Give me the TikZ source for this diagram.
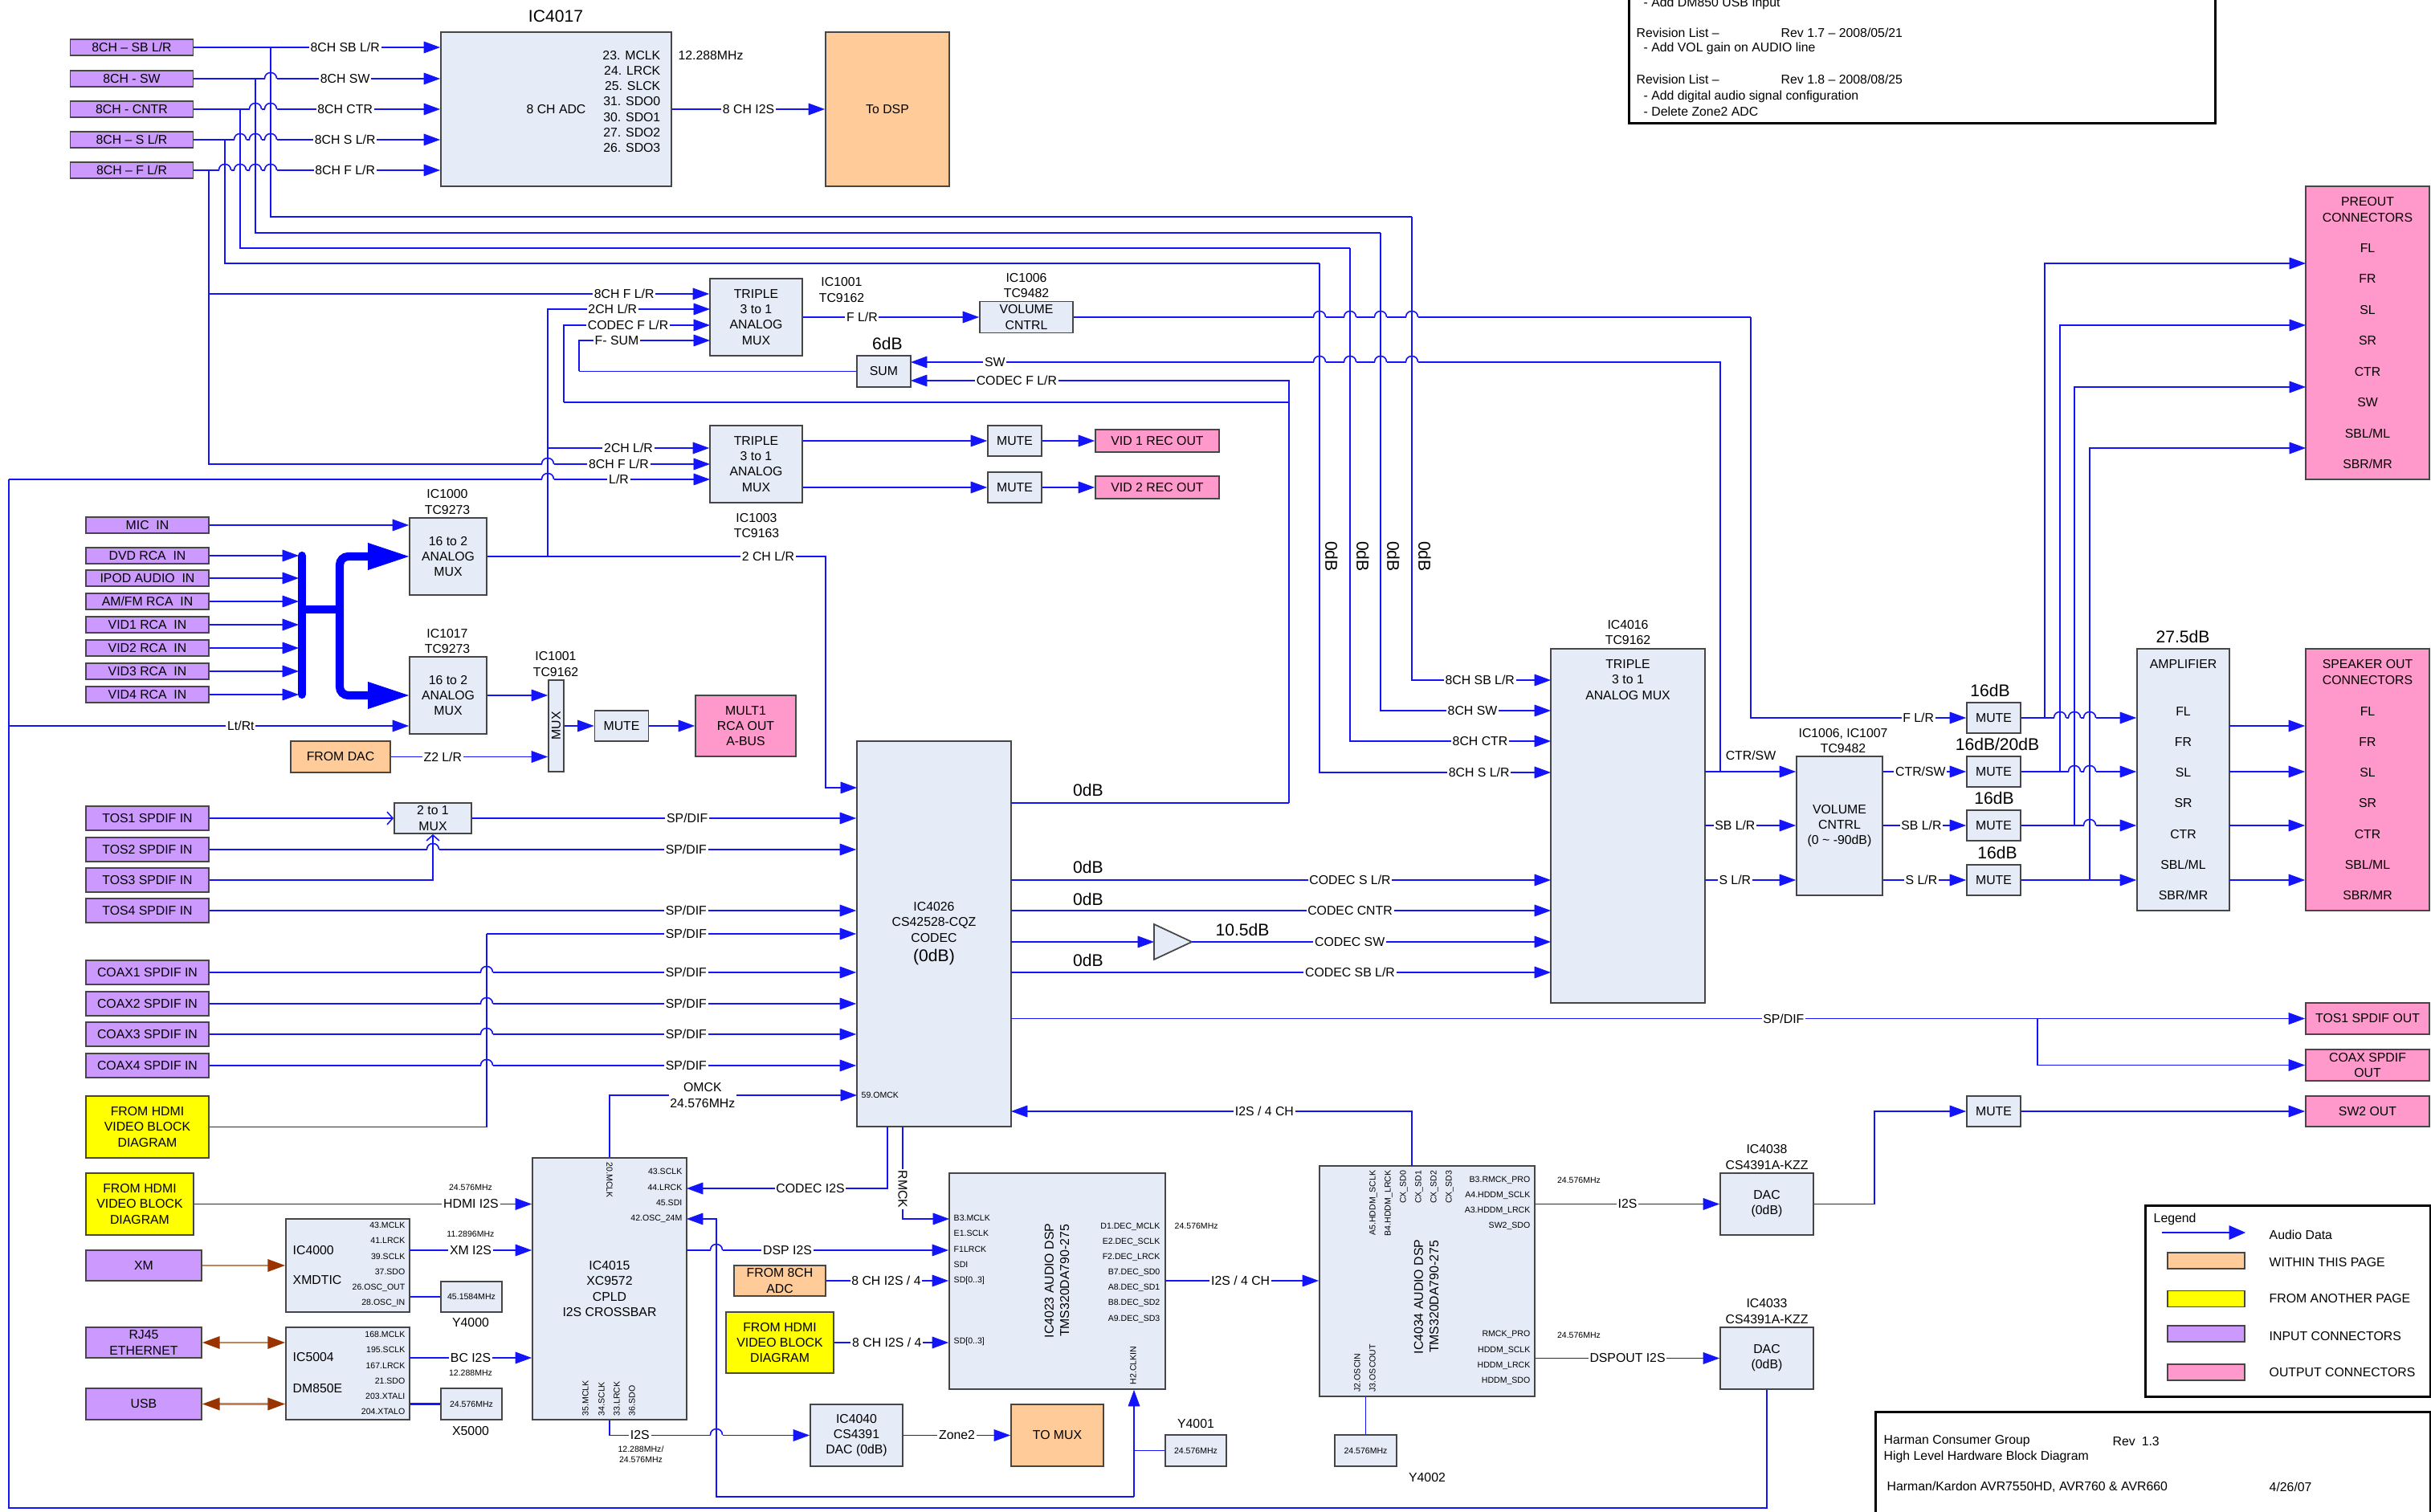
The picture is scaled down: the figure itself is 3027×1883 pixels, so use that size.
\documentclass[tikz,border=0pt]{standalone}
\usepackage{fontspec}
\setmainfont{Liberation Sans}
\usepackage{graphicx}
\usetikzlibrary{arrows.meta,positioning}

\definecolor{wireblue}{RGB}{20,20,250}
\definecolor{icfill}{RGB}{230,236,247}
\definecolor{inpurple}{RGB}{204,153,255}
\definecolor{outpink}{RGB}{255,153,204}
\definecolor{pageorange}{RGB}{255,204,153}
\definecolor{hdmiyellow}{RGB}{255,255,0}
\definecolor{brownline}{RGB}{200,130,90}
\definecolor{browntip}{RGB}{153,51,0}
\definecolor{boxline}{RGB}{70,70,70}

\newcommand{\fnorm}{\fontsize{4.5}{5.45}\selectfont}
\newcommand{\fpin}{\fontsize{3}{5.45}\selectfont}
\newcommand{\fbig}{\fontsize{6}{7.2}\selectfont}
\newcommand{\hop}[2]{%
  \fill[white] (#1-7.5,#2-1.4) rectangle (#1+7.5,#2+1.4);
  \draw[wire] (#1,#2-3) -- (#1,#2+3);
  \draw[wire] (#1-7.5,#2) .. controls (#1-7.5,#2-10) and (#1+7.5,#2-10) .. (#1+7.5,#2);}

\begin{document}
\begin{tikzpicture}[x=0.01cm, y=-0.01cm, font=\fnorm,
    every node/.append style = {align=center},
    box/.style = {draw=boxline, line width=0.5pt, inner sep=0pt, align=center},
    ic/.style = {box, fill=icfill},
    inbox/.style = {box, fill=inpurple, minimum width=1.53cm, minimum height=0.2cm},
    outbox/.style = {box, fill=outpink, minimum width=1.54cm},
    pagebox/.style = {box, fill=pageorange},
    hdmi/.style = {box, fill=hdmiyellow},
    mute/.style = {ic, minimum width=0.67cm, minimum height=0.38cm},
    xtal/.style = {ic, font=\fpin, minimum width=0.76cm, minimum height=0.38cm},
    wire/.style = {draw=wireblue, line width=0.45pt},
    arr/.style = {wire, -{Triangle[length=5.8pt, width=4.2pt, line width=0.2pt]}},
    barb/.style = {wire, -{Straight Barb[length=2pt, width=4.5pt]}},
    bus/.style = {draw=blue, line width=2.9pt},
    bigarr/.style = {bus, rounded corners=3pt, -{Triangle[length=14.5pt, width=9.6pt, line width=0.2pt]}},
    brownarr/.style = {draw=brownline, line width=0.6pt, arrows={-Triangle[length=6.2pt, width=4.4pt, color=browntip, fill=browntip]}},
    brownboth/.style = {draw=brownline, line width=0.6pt, arrows={Triangle[length=6.2pt, width=4.4pt, color=browntip, fill=browntip]-Triangle[length=6.2pt, width=4.4pt, color=browntip, fill=browntip]}},
    lbl/.style = {fill=white, inner sep=0.5pt, align=center},
    pin/.style = {font=\fpin, inner sep=0pt},
    big/.style = {font=\fbig, inner sep=0pt},
    txt/.style = {anchor=west, inner sep=0pt, align=left},
    frame/.style = {draw=black, line width=0.8pt, inner sep=0pt},
  ]
  \useasboundingbox (0,0) rectangle (3027,1883);
  \fill[white] (0,0) rectangle (3027,1883);

  \node (inSB) [inbox] at (164,59) {8CH -- SB L/R};
  \node (inSW) [inbox] at (164,98) {8CH - SW};
  \node (inCTR) [inbox] at (164,136) {8CH - CNTR};
  \node (inS) [inbox] at (164,174) {8CH -- S L/R};
  \node (inF) [inbox] at (164,212) {8CH -- F L/R};
  \node (adc) [ic, minimum width=2.87cm, minimum height=1.92cm] at (692.5,136) {8 CH ADC};
  \node (adcname) [big] at (692,20) {IC4017};
  \node (adcpins) [inner sep=0pt, align=right, anchor=east] at (823,126.5) {23. MCLK\\24. LRCK\\25. SLCK\\31. SDO0\\30. SDO1\\27. SDO2\\26. SDO3};
  \node (adcclk) at (885,69) {12.288MHz};
  \node (todsp) [pagebox, minimum width=1.54cm, minimum height=1.92cm] at (1105,136) {To DSP};

  \node (mux1) [ic, minimum width=1.15cm, minimum height=0.96cm] at (941.5,395) {TRIPLE\\3 to 1\\ANALOG\\MUX};
  \node (mux1name) at (1048,361) {IC1001\\TC9162};
  \node (vol1) [ic, minimum width=1.16cm, minimum height=0.39cm] at (1278,395) {VOLUME\\CNTRL};
  \node (vol1name) at (1278,355.5) {IC1006\\TC9482};
  \node (sum) [ic, minimum width=0.67cm, minimum height=0.39cm] at (1100.5,462.5) {SUM};
  \node (sumgain) [big] at (1105,428) {6dB};
  \node (mux2) [ic, minimum width=1.15cm, minimum height=0.96cm] at (941.5,578) {TRIPLE\\3 to 1\\ANALOG\\MUX};
  \node (mux2name) at (942,654.5) {IC1003\\TC9163};
  \node (mute1) [mute] at (1263.5,549) {MUTE};
  \node (mute2) [mute] at (1263.5,607) {MUTE};
  \node (vid1out) [outbox, minimum height=0.28cm] at (1441,549) {VID 1 REC OUT};
  \node (vid2out) [outbox, minimum height=0.28cm] at (1441,607) {VID 2 REC OUT};

  \node (mic) [inbox] at (183.5,654) {MIC~~IN};
  \node (dvd) [inbox] at (183.5,692) {DVD RCA~~IN};
  \node (ipod) [inbox] at (183.5,720) {IPOD AUDIO~~IN};
  \node (amfm) [inbox] at (183.5,749) {AM/FM RCA~~IN};
  \node (vid1in) [inbox] at (183.5,778) {VID1 RCA~~IN};
  \node (vid2in) [inbox] at (183.5,807) {VID2 RCA~~IN};
  \node (vid3in) [inbox] at (183.5,836) {VID3 RCA~~IN};
  \node (vid4in) [inbox] at (183.5,865) {VID4 RCA~~IN};
  \node (ic1000) [ic, minimum width=0.96cm, minimum height=0.96cm] at (558,693) {16 to 2\\ANALOG\\MUX};
  \node (ic1000name) at (557,625) {IC1000\\TC9273};
  \node (ic1017) [ic, minimum width=0.96cm, minimum height=0.96cm] at (558,866) {16 to 2\\ANALOG\\MUX};
  \node (ic1017name) at (557,798.5) {IC1017\\TC9273};
  \node (zmux) [ic, minimum width=0.19cm, minimum height=1.14cm] at (692.5,904) {\rotatebox{90}{MUX}};
  \node (zmuxname) at (692,827) {IC1001\\TC9162};
  \node (fromdac) [pagebox, minimum width=1.24cm, minimum height=0.39cm] at (424,942.5) {FROM DAC};
  \node (mute3) [mute] at (774,904) {MUTE};
  \node (mult1) [outbox, minimum width=1.25cm, minimum height=0.76cm] at (928.5,904) {MULT1\\RCA OUT\\A-BUS};

  \node (tos1) [inbox, minimum height=0.3cm] at (183.5,1019) {TOS1 SPDIF IN};
  \node (tos2) [inbox, minimum height=0.3cm] at (183.5,1058) {TOS2 SPDIF IN};
  \node (tos3) [inbox, minimum height=0.3cm] at (183.5,1096) {TOS3 SPDIF IN};
  \node (tos4) [inbox, minimum height=0.3cm] at (183.5,1134) {TOS4 SPDIF IN};
  \node (mux21) [ic, minimum width=0.96cm, minimum height=0.38cm] at (539,1019) {2 to 1\\MUX};
  \node (coax1) [inbox, minimum height=0.3cm] at (183.5,1211) {COAX1 SPDIF IN};
  \node (coax2) [inbox, minimum height=0.3cm] at (183.5,1250) {COAX2 SPDIF IN};
  \node (coax3) [inbox, minimum height=0.3cm] at (183.5,1288) {COAX3 SPDIF IN};
  \node (coax4) [inbox, minimum height=0.3cm] at (183.5,1327) {COAX4 SPDIF IN};
  \node (hdmi1) [hdmi, minimum width=1.53cm, minimum height=0.77cm] at (183.5,1403.5) {FROM HDMI\\VIDEO BLOCK\\DIAGRAM};

  \node (codec) [ic, minimum width=1.92cm, minimum height=4.8cm] at (1163,1163) {IC4026\\CS42528-CQZ\\CODEC\\[1.6pt]{\fbig (0dB)}};
  \node (omckpin) [pin, anchor=west] at (1072,1364) {59.OMCK};

  \node (mux16) [ic, minimum width=1.92cm, minimum height=4.41cm] at (2027,1028.5) {};
  \node (mux16txt) at (2027,846.5) {TRIPLE\\3 to 1\\ANALOG MUX};
  \node (mux16name) at (2027,787.5) {IC4016\\TC9162};
  \node (vol2) [ic, minimum width=1.07cm, minimum height=1.73cm] at (2290.5,1028.5) {VOLUME\\CNTRL\\(0 \textasciitilde{} -90dB)};
  \node (vol2name) at (2295,922.5) {IC1006, IC1007\\TC9482};
  \node (muteF) [mute] at (2482.5,894) {MUTE};
  \node (muteCS) [mute] at (2482.5,961) {MUTE};
  \node (muteSB) [mute] at (2482.5,1028) {MUTE};
  \node (muteS) [mute] at (2482.5,1096) {MUTE};
  \node (gainF) [big] at (2478,860) {16dB};
  \node (gainCS) [big] at (2487,927) {16dB/20dB};
  \node (gainSB) [big] at (2483,994) {16dB};
  \node (gainS) [big] at (2487,1062) {16dB};
  \node (amp) [ic, minimum width=1.15cm, minimum height=3.26cm] at (2718.5,971) {};
  \node (ampgain) [big] at (2718,793) {27.5dB};
  \node (amptxt) at (2718.5,827) {AMPLIFIER};
  \node (spkout) [outbox, minimum height=3.26cm] at (2948,971) {};
  \node (spktxt) at (2948,837) {SPEAKER OUT\\CONNECTORS};
  \foreach \t [count=\i] in {FL,FR,SL,SR,CTR,SBL/ML,SBR/MR} {
    \node (ampch\i) at (2718.5,{886+38.17*(\i-1)}) {\t};
    \node (spkch\i) at (2948,{886+38.17*(\i-1)}) {\t};
  }
  \node (preout) [outbox, minimum height=3.65cm] at (2948,414.5) {};
  \node (pretxt) at (2948,261) {PREOUT\\CONNECTORS};
  \foreach \t [count=\i] in {FL,FR,SL,SR,CTR,SW,SBL/ML,SBR/MR} {
    \node (prech\i) at (2948,{309+38.43*(\i-1)}) {\t};
  }

  \node (tosout) [outbox, minimum height=0.39cm] at (2948,1268.5) {TOS1 SPDIF OUT};
  \node (coaxout) [outbox, minimum height=0.39cm] at (2948,1326.5) {COAX SPDIF\\OUT};
  \node (sw2out) [outbox, minimum height=0.38cm] at (2948,1384) {SW2 OUT};
  \node (muteSW2) [mute] at (2482.5,1384) {MUTE};
  \node (dac1) [ic, minimum width=1.16cm, minimum height=0.77cm] at (2200,1499.5) {DAC\\(0dB)};
  \node (dac1name) at (2200,1441) {IC4038\\CS4391A-KZZ};
  \node (dac2) [ic, minimum width=1.16cm, minimum height=0.77cm] at (2200,1691.5) {DAC\\(0dB)};
  \node (dac2name) at (2200,1633) {IC4033\\CS4391A-KZZ};

  \node (dsp2) [ic, minimum width=2.68cm, minimum height=2.87cm] at (1777,1595.5) {};
  \node (dsp2txt) [rotate=90, align=center] at (1776,1615) {IC4034 AUDIO DSP\\TMS320DA790-275};
  \foreach \t/\x in {A5.HDDM\_SCLK/1710, B4.HDDM\_LRCK/1729, CX\_SD0/1748, CX\_SD1/1767, CX\_SD2/1786, CX\_SD3/1805} {
    \node[pin, rotate=90, anchor=east] at (\x,1457) {\t};
  }
  \node (dsp2pa) [pin, align=right, anchor=east] at (1906,1498.5) {B3.RMCK\_PRO\\A4.HDDM\_SCLK\\A3.HDDM\_LRCK\\SW2\_SDO};
  \node (dsp2pb) [pin, align=right, anchor=east] at (1906,1691) {RMCK\_PRO\\HDDM\_SCLK\\HDDM\_LRCK\\HDDM\_SDO};
  \node (dsp2pc) [pin, rotate=90, anchor=west] at (1690,1734) {J2.OSCIN};
  \node (dsp2pd) [pin, rotate=90, anchor=west] at (1709,1734) {J3.OSCOUT};
  \node (dsp2fa) [pin] at (1966,1470) {24.576MHz};
  \node (dsp2fb) [pin] at (1966,1663) {24.576MHz};
  \node (y4002) [xtal, minimum width=0.77cm, minimum height=0.39cm] at (1700.5,1806.5) {24.576MHz};
  \node (y4002name) at (1777,1840) {Y4002};

  \node (dsp1) [ic, minimum width=2.69cm, minimum height=2.69cm] at (1316.5,1595.5) {};
  \node (dsp1txt) [rotate=90, align=center] at (1316,1595) {IC4023 AUDIO DSP\\TMS320DA790-275};
  \node (dsp1pa) [pin, align=left, anchor=west] at (1187,1556.5) {B3.MCLK\\E1.SCLK\\F1LRCK\\SDI\\SD[0..3]};
  \node (dsp1pb) [pin, anchor=west] at (1187,1671) {SD[0..3]};
  \node (dsp1pc) [pin, align=right, anchor=east] at (1445,1585) {D1.DEC\_MCLK\\E2.DEC\_SCLK\\F2.DEC\_LRCK\\B7.DEC\_SD0\\A8.DEC\_SD1\\B8.DEC\_SD2\\A9.DEC\_SD3};
  \node (dsp1pd) [pin, rotate=90, anchor=west] at (1411,1725) {H2.CLKIN};
  \node (dsp1f) [pin, anchor=west] at (1462,1527) {24.576MHz};
  \node (from8ch) [pagebox, minimum width=1.14cm, minimum height=0.38cm] at (971,1595) {FROM 8CH\\ADC};
  \node (hdmi3) [hdmi, minimum width=1.34cm, minimum height=0.76cm] at (971,1672) {FROM HDMI\\VIDEO BLOCK\\DIAGRAM};
  \node (y4001) [xtal, minimum height=0.39cm] at (1489,1806.5) {24.576MHz};
  \node (y4001name) at (1489,1773) {Y4001};
  \node (dac3) [ic, minimum width=1.15cm, minimum height=0.77cm] at (1066.5,1787.5) {IC4040\\CS4391\\DAC (0dB)};
  \node (tomux) [pagebox, minimum width=1.15cm, minimum height=0.77cm] at (1316.5,1787.5) {TO MUX};

  \node (cpld) [ic, minimum width=1.92cm, minimum height=3.26cm] at (759,1605) {IC4015\\XC9572\\CPLD\\I2S CROSSBAR};
  \node (cpldpa) [pin, align=right, anchor=east] at (850,1489) {43.SCLK\\44.LRCK\\45.SDI\\42.OSC\_24M};
  \node (cpldpb) [pin, rotate=-90, anchor=west] at (759,1447) {20.MCLK};
  \foreach \t/\x in {35.MCLK/729, 34.SCLK/749, 33.LRCK/768, 36.SDO/787} {
    \node[pin, rotate=90, anchor=west] at (\x,1764) {\t};
  }
  \node (i2sclk) [font=\fontsize{3}{3.8}\selectfont, align=center, inner sep=0pt] at (798,1811) {12.288MHz/\\24.576MHz};

  \node (hdmi2) [hdmi, minimum width=1.34cm, minimum height=0.77cm] at (174,1499.5) {FROM HDMI\\VIDEO BLOCK\\DIAGRAM};
  \node (hdmiclk) [pin] at (586,1479) {24.576MHz};
  \node (xm) [inbox, minimum width=1.44cm, minimum height=0.38cm] at (179,1576) {XM};
  \node (ic4000) [ic, minimum width=1.54cm, minimum height=1.16cm] at (433,1576) {};
  \node (ic4000a) [txt] at (364,1557) {IC4000};
  \node (ic4000b) [txt] at (364,1594) {XMDTIC};
  \node (ic4000p) [pin, align=right, anchor=east] at (505,1575) {43.MCLK\\41.LRCK\\39.SCLK\\37.SDO\\26.OSC\_OUT\\28.OSC\_IN};
  \node (xmclk) [pin] at (586,1537) {11.2896MHz};
  \node (y4000) [xtal] at (587,1615) {45.1584MHz};
  \node (y4000name) at (586,1647) {Y4000};
  \node (rj45) [inbox, minimum width=1.44cm, minimum height=0.38cm] at (179,1672) {RJ45\\ETHERNET};
  \node (usb) [inbox, minimum width=1.44cm, minimum height=0.39cm] at (179,1748.5) {USB};
  \node (ic5004) [ic, minimum width=1.54cm, minimum height=1.15cm] at (433,1710.5) {};
  \node (ic5004a) [txt] at (364,1690) {IC5004};
  \node (ic5004b) [txt] at (364,1729) {DM850E};
  \node (ic5004p) [pin, align=right, anchor=east] at (505,1710) {168.MCLK\\195.SCLK\\167.LRCK\\21.SDO\\203.XTALI\\204.XTALO};
  \node (bcclk) [pin] at (586,1710) {12.288MHz};
  \node (x5000) [xtal, minimum height=0.39cm] at (587,1748.5) {24.576MHz};
  \node (x5000name) at (586,1782) {X5000};

  \path[arr] (inSB.east) -- node[lbl, pos=.614] {8CH SB L/R} (adc.west |- inSB.east);
  \path[arr] (inSW.east) -- node[lbl, pos=.614] {8CH SW} (adc.west |- inSW.east);
  \path[arr] (inCTR.east) -- node[lbl, pos=.614] {8CH CTR} (adc.west |- inCTR.east);
  \path[arr] (inS.east) -- node[lbl, pos=.614] {8CH S L/R} (adc.west |- inS.east);
  \path[arr] (inF.east) -- node[lbl, pos=.614] {8CH F L/R} (adc.west |- inF.east);
  \path[arr] (adc.east) -- node[lbl] {8 CH I2S} (todsp.west);

  \coordinate (tSB) at (337,59);
  \coordinate (tSW) at (318,98);
  \coordinate (tCTR) at (299,136);
  \coordinate (tS) at (280,174);
  \coordinate (tF) at (260,212);
  \coordinate (tF2) at (260,366);
  \coordinate (kSB) at (1758,270);
  \coordinate (kSW) at (1719,290);
  \coordinate (kCTR) at (1681,309);
  \coordinate (kS) at (1643,328);
  \coordinate (u1) at (1931,847);
  \coordinate (u2) at (1931,885);
  \coordinate (u3) at (1931,923);
  \coordinate (u4) at (1931,962);
  \path[wire] (tSB) |- (kSB);
  \path[wire] (tSW) |- (kSW);
  \path[wire] (tCTR) |- (kCTR);
  \path[wire] (tS) |- (kS);
  \path[arr] (kSB) |- node[lbl, pos=.745] {8CH SB L/R} (u1);
  \path[arr] (kSW) |- node[lbl, pos=.77] {8CH SW} (u2);
  \path[arr] (kCTR) |- node[lbl, pos=.824] {8CH CTR} (u3);
  \path[arr] (kS) |- node[lbl, pos=.845] {8CH S L/R} (u4);
  \foreach \x in {1658,1697,1735,1774} {
    \node (odb\x) [big, rotate=-90] at (\x,693) {0dB};
  }

  \coordinate (m1a) at (mux1.west |- tF2);
  \coordinate (m1b) at (884,385);
  \coordinate (m1c) at (884,405);
  \coordinate (m1d) at (884,424);
  \coordinate (m2b) at (884,578);
  \coordinate (m2c) at (884,597);
  \path[arr] (tF2) -- node[lbl, pos=.83] {8CH F L/R} (m1a);
  \path[arr] (tF) |- node[lbl, pos=.909] {8CH F L/R} (m2b);

  \coordinate (j2ch) at (682,693);
  \coordinate (j2chb) at (682,558);
  \coordinate (c2ch) at (1028,693);
  \coordinate (cin2ch) at (1067,981);
  \path[arr] (j2ch) |- node[lbl, pos=.70] {2CH L/R} (m1b);
  \path[arr] (j2chb) -- node[lbl] {2CH L/R} (mux2.west |- j2chb);
  \path[arr] (ic1000.east) -- node[lbl, pos=.83] {2 CH L/R} (c2ch) |- (cin2ch);

  \coordinate (sumSW) at (1134,451);
  \coordinate (sumCF) at (1134,474);
  \coordinate (fsum) at (721,462.5);
  \path[wire] (sum.west) -- (fsum);
  \path[arr] (fsum) |- node[lbl, pos=.644] {F- SUM} (m1d);
  \coordinate (co1) at (1259,1000);
  \coordinate (cF) at (1605,1000);
  \coordinate (cF2) at (1605,501);
  \coordinate (cF3) at (702,501);
  \path[wire] (co1) -- (cF);
  \path[arr] (cF) |- node[lbl, pos=.86] {CODEC F L/R} (sumCF);
  \path[wire] (cF2) -- (cF3);
  \path[arr] (cF3) |- node[lbl, pos=.72] {CODEC F L/R} (m1c);

  \path[arr] (mux1.east) -- node[lbl, pos=.335] {F L/R} (vol1.west);
  \coordinate (fk) at (2180,395);
  \path[wire] (vol1.east) -- (fk);
  \path[arr] (fk) |- node[lbl, pos=.889] {F L/R} (muteF.west);
  \coordinate (swk) at (2142,961);
  \path[arr] (swk) |- node[lbl, pos=.948] {SW} (sumSW);

  \path[arr] (mux2.east |- mute1.west) -- (mute1.west);
  \path[arr] (mute1.east) -- (vid1out.west);
  \path[arr] (mux2.east |- mute2.west) -- (mute2.west);
  \path[arr] (mute2.east) -- (vid2out.west);

  \coordinate (lrk) at (11,597);
  \coordinate (ltrt) at (11,904);
  \coordinate (botR) at (2200,1878);
  \coordinate (botL) at (11,1878);
  \path[wire] (dac2.south) -- (botR) -- (botL) -- (lrk);
  \path[arr] (lrk) -- node[lbl, pos=.87] {L/R} (m2c);
  \path[arr] (ltrt) -- node[lbl, pos=.58] {Lt/Rt} (ic1017.west |- ltrt);

  \coordinate (busL) at (372,692);
  \coordinate (busA) at (376,692);
  \coordinate (busB) at (376,865);
  \coordinate (busM) at (376,759);
  \coordinate (busN) at (423,759);
  \coordinate (busT) at (423,693);
  \coordinate (busU) at (423,866);
  \foreach \n in {dvd,ipod,amfm,vid1in,vid2in,vid3in,vid4in} {
    \path[arr] (\n.east) -- (\n.east -| busL);
  }
  \path[arr] (mic.east) -- (ic1000.west |- mic.east);
  \draw[bus, line cap=round] (busA) -- (busB);
  \draw[bus] (busM) -- (busN);
  \path[bigarr] (busN) -- (busT) -- (ic1000.west);
  \path[bigarr] (busN) -- (busU) -- (ic1017.west);

  \path[arr] (ic1017.east) -- (zmux.west |- ic1017.east);
  \path[arr] (fromdac.east) -- node[lbl, pos=.33] {Z2 L/R} (zmux.west |- fromdac.east);
  \path[arr] (zmux.east) -- (mute3.west);
  \path[arr] (mute3.east) -- (mult1.west);

  \path[barb] (tos1.east) -- (mux21.west);
  \path[barb] (tos3.east) -| (mux21.south);
  \path[arr] (mux21.east) -- node[lbl, pos=.56] {SP/DIF} (codec.west |- mux21.east);
  \foreach \n in {tos2,tos4,coax1,coax2,coax3,coax4} {
    \path[arr] (\n.east) -- node[lbl, pos=.737] {SP/DIF} (codec.west |- \n.east);
  }
  \coordinate (h1k) at (606,1163);
  \path[wire] (hdmi1.east) -| (h1k);
  \path[arr] (h1k) -- node[lbl, pos=.54] {SP/DIF} (codec.west |- h1k);

  \coordinate (omckin) at (1067,1364);
  \path[arr] (cpld.north) |- node[lbl, pos=.688] {OMCK\\24.576MHz} (omckin);

  \coordinate (co2) at (1259,1096);
  \coordinate (co3) at (1259,1134);
  \coordinate (co4) at (1259,1173);
  \coordinate (co5) at (1259,1211);
  \coordinate (co6) at (1259,1268.5);
  \coordinate (u5) at (1931,1096);
  \coordinate (u6) at (1931,1134);
  \coordinate (u7) at (1931,1173);
  \coordinate (u8) at (1931,1211);
  \coordinate (gin) at (1437,1173);
  \coordinate (gout) at (1484,1173);
  \path[arr] (co2) -- node[lbl, pos=.628] {CODEC S L/R} (u5);
  \path[arr] (co3) -- node[lbl, pos=.628] {CODEC CNTR} (u6);
  \path[arr] (co4) -- (gin);
  \draw[box, fill=icfill] (1437,1151) -- (gout) -- (1437,1195) -- cycle;
  \path[arr] (gout) -- node[lbl, pos=.44] {CODEC SW} (u7);
  \path[arr] (co5) -- node[lbl, pos=.628] {CODEC SB L/R} (u8);
  \node (swgain) [big] at (1547,1158) {10.5dB};
  \node (cgain1) [big] at (1355,984) {0dB};
  \node (cgain2) [big] at (1355,1080) {0dB};
  \node (cgain3) [big] at (1355,1120) {0dB};
  \node (cgain4) [big] at (1355,1196) {0dB};
  \path[arr] (co6) -- node[lbl, pos=.597] {SP/DIF} (tosout.west);
  \coordinate (spk) at (2537,1268.5);
  \path[arr] (spk) |- (coaxout.west);

  \coordinate (ci) at (1259,1384);
  \coordinate (i4k) at (1758,1452);
  \path[arr] (i4k) |- node[lbl, pos=.684] {I2S / 4 CH} (ci);
  \coordinate (cb1) at (1105,1403);
  \coordinate (cb2) at (1124,1403);
  \coordinate (cpl44) at (855,1480);
  \coordinate (dspb3) at (1182,1518);
  \path[arr] (cb1) |- node[lbl, pos=.692] {CODEC I2S} (cpl44);
  \path[arr] (cb2) |- node[lbl, rotate=-90, pos=.34] {RMCK} (dspb3);

  \coordinate (uo1) at (2123,961);
  \coordinate (uo2) at (2123,1028);
  \coordinate (uo3) at (2123,1096);
  \path[arr] (uo1) -- (vol2.west |- uo1);
  \node (ctrsw) at (2180,941) {CTR/SW};
  \path[arr] (uo2) -- node[lbl, pos=.33] {SB L/R} (vol2.west |- uo2);
  \path[arr] (uo3) -- node[lbl, pos=.33] {S L/R} (vol2.west |- uo3);
  \path[arr] (vol2.east |- muteCS.west) -- node[lbl, pos=.45] {CTR/SW} (muteCS.west);
  \path[arr] (vol2.east |- muteSB.west) -- node[lbl, pos=.46] {SB L/R} (muteSB.west);
  \path[arr] (vol2.east |- muteS.west) -- node[lbl, pos=.46] {S L/R} (muteS.west);
  \foreach \n in {muteF,muteCS,muteSB,muteS} {
    \path[arr] (\n.east) -- (amp.west |- \n.east);
  }
  \coordinate (bF) at (2546,894);
  \coordinate (bCS) at (2565,961);
  \coordinate (bSB) at (2583,1028);
  \coordinate (bS) at (2602,1096);
  \coordinate (pFL) at (2871,328);
  \coordinate (pSL) at (2871,405);
  \coordinate (pCTR) at (2871,482);
  \coordinate (pSBL) at (2871,558);
  \path[arr] (bF) |- (pFL);
  \path[arr] (bCS) |- (pSL);
  \path[arr] (bSB) |- (pCTR);
  \path[arr] (bS) |- (pSBL);
  \foreach \y in {904,961,1028,1096} {
    \coordinate (ao) at (2776,\y);
    \path[arr] (ao) -- (ao -| spkout.west);
  }

  \coordinate (d1k) at (2334,1499.5);
  \path[wire] (dac1.east) -- (d1k);
  \path[arr] (d1k) |- (muteSW2.west);
  \path[arr] (muteSW2.east) -- (sw2out.west);
  \path[arr] (dsp2.east |- dac1.west) -- node[lbl] {I2S} (dac1.west);
  \path[arr] (dsp2.east |- dac2.west) -- node[lbl] {DSPOUT I2S} (dac2.west);
  \path[wire] (y4002.north) -- (y4002.north |- dsp2.south);

  \coordinate (dspi) at (855,1557);
  \coordinate (dspo) at (1451,1595);
  \path[arr] (dspi) -- node[lbl, pos=.385] {DSP I2S} (dsp1.west |- dspi);
  \path[arr] (from8ch.east) -- node[lbl, pos=.49] {8 CH I2S / 4} (dsp1.west |- from8ch.east);
  \path[arr] (hdmi3.east) -- node[lbl, pos=.46] {8 CH I2S / 4} (dsp1.west |- hdmi3.east);
  \path[arr] (dspo) -- node[lbl, pos=.49] {I2S / 4 CH} (dspo -| dsp2.west);

  \coordinate (clk1) at (1412,1806.5);
  \coordinate (clk2) at (1412,1864);
  \coordinate (clk3) at (892,1864);
  \coordinate (osc24) at (855,1518);
  \path[wire] (y4001.west) -- (clk1);
  \path[arr] (clk2) -- (clk1 |- dsp1.south);
  \path[arr] (clk2) -- (clk3) |- (osc24);
  \path[arr] (cpld.south) |- node[lbl, pos=.576] {I2S} (dac3.west);
  \path[arr] (dac3.east) -- node[lbl] {Zone2} (tomux.west);

  \path[arr] (hdmi2.east) -- node[lbl, pos=.82] {HDMI I2S} (cpld.west |- hdmi2.east);
  \path[brownarr] (xm.east) -- (ic4000.west);
  \coordinate (xmo) at (510,1557);
  \path[arr] (xmo) -- node[lbl] {XM I2S} (xmo -| cpld.west);
  \path[wire] (y4000.west -| ic4000.east) -- (y4000.west);
  \path[brownboth] (rj45.east) -- (rj45.east -| ic5004.west);
  \path[brownboth] (usb.east) -- (usb.east -| ic5004.west);
  \coordinate (bco) at (510,1691);
  \path[arr] (bco) -- node[lbl] {BC I2S} (bco -| cpld.west);
  \path[wire, line width=0.9pt] (x5000.west -| ic5004.east) -- (x5000.west);

  \foreach \x/\y in {337/98, 318/136, 337/136, 299/174, 318/174, 337/174, 280/212, 299/212, 318/212, 337/212,
      1643/395, 1681/395, 1719/395, 1758/395, 1643/451, 1681/451, 1719/451, 1758/451,
      682/578, 682/597, 539/1058, 606/1211, 606/1250, 606/1288, 606/1327, 892/1557, 892/1787,
      2565/894, 2583/894, 2602/894, 2583/961, 2602/961, 2602/1028} {
    \hop{\x}{\y}
  }

  \node (legend) [frame, anchor=north west, minimum width=3.55cm, minimum height=2.38cm] at (2670,1500) {};
  \node (legtitle) [txt] at (2681,1518) {Legend};
  \coordinate (lgA) at (2692,1535);
  \coordinate (lgB) at (2796,1535);
  \path[wire, line width=0.8pt, -{Triangle[length=5.8pt, width=5pt, line width=0.2pt]}] (lgA) -- (lgB);
  \node (legdata) [txt] at (2825,1538) {Audio Data};
  \node (sw1) [pagebox, minimum width=0.96cm, minimum height=0.2cm] at (2747,1570) {};
  \node (sw2) [hdmi, minimum width=0.96cm, minimum height=0.2cm] at (2747,1617.5) {};
  \node (sw3) [box, fill=inpurple, minimum width=0.96cm, minimum height=0.2cm] at (2747,1661) {};
  \node (sw4) [box, fill=outpink, minimum width=0.96cm, minimum height=0.2cm] at (2747,1709) {};
  \node (leg1) [txt] at (2825,1572) {WITHIN THIS PAGE};
  \node (leg2) [txt] at (2825,1617) {FROM ANOTHER PAGE};
  \node (leg3) [txt] at (2825,1664) {INPUT CONNECTORS};
  \node (leg4) [txt] at (2825,1709) {OUTPUT CONNECTORS};

  \node (titlebox) [frame, anchor=north west, minimum width=6.91cm, minimum height=1.5cm] at (2334,1757) {};
  \node (title1) [txt] at (2345,1795) {Harman Consumer Group};
  \node (title2) [txt] at (2345,1814) {High Level Hardware Block Diagram};
  \node (title3) [txt] at (2630,1795) {Rev\enspace 1.3};
  \node (title4) [txt] at (2349,1852) {Harman/Kardon AVR7550HD, AVR760 \& AVR660};
  \node (title5) [txt] at (2825,1852) {4/26/07};

  \node (revbox) [frame, anchor=south west, minimum width=7.30cm, minimum height=2.5cm] at (2027,155) {};
  \node (rev0) [txt] at (2046,4) {- Add DM850 USB Input};
  \node (rev1) [txt] at (2037,41) {Revision List --};
  \node (rev2) [txt] at (2217,41) {Rev 1.7 -- 2008/05/21};
  \node (rev3) [txt] at (2046,60) {- Add VOL gain on AUDIO line};
  \node (rev4) [txt] at (2037,99) {Revision List --};
  \node (rev5) [txt] at (2217,99) {Rev 1.8 -- 2008/08/25};
  \node (rev6) [txt] at (2046,120) {- Add digital audio signal configuration};
  \node (rev7) [txt] at (2046,139) {- Delete Zone2 ADC};
\end{tikzpicture}
\end{document}
